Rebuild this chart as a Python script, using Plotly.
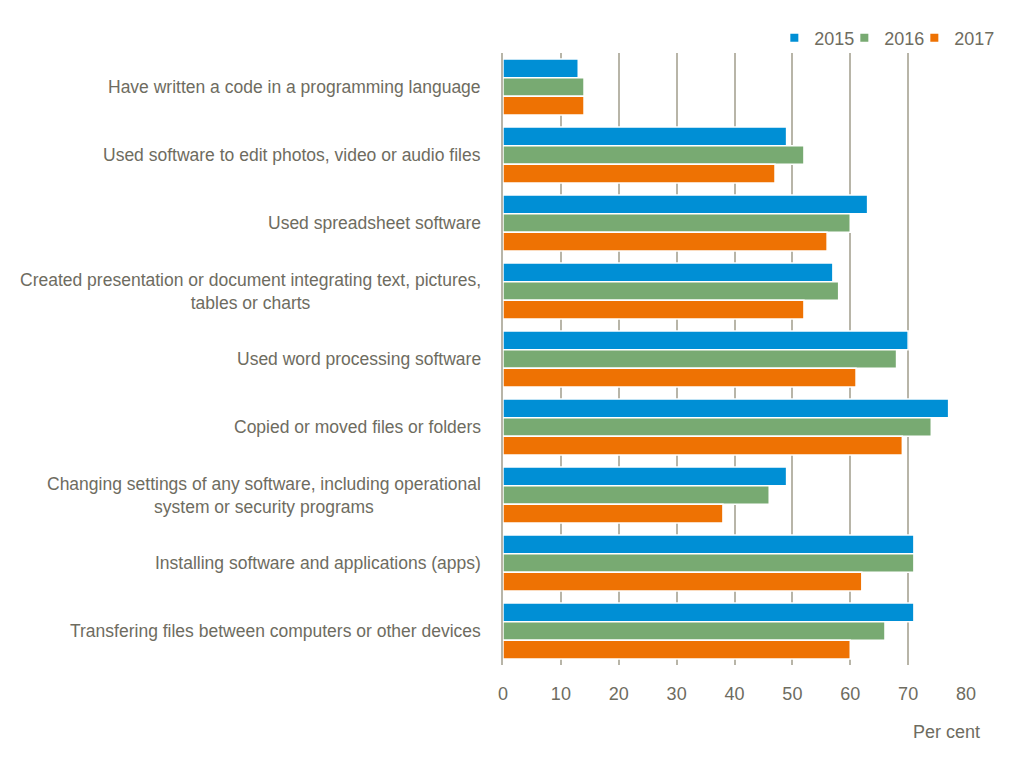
import plotly.graph_objects as go

categories = [
    "Have written a code in a programming language",
    "Used software to edit photos, video or audio files",
    "Used spreadsheet software",
    "Created presentation or document integrating text, pictures,<br>tables or charts",
    "Used word processing software",
    "Copied or moved files or folders",
    "Changing settings of any software, including operational<br>system or security programs",
    "Installing software and applications (apps)",
    "Transfering files between computers or other devices",
]
series_names = ["2015", "2016", "2017"]
values_2015 = [13, 49, 63, 57, 70, 77, 49, 71, 71]
values_2016 = [14, 52, 60, 58, 68, 74, 46, 71, 66]
values_2017 = [14, 47, 56, 52, 61, 69, 38, 62, 60]
x_ticks = [0, 10, 20, 30, 40, 50, 60, 70, 80]

colors = ["#008FD5", "#78AA72", "#EE7203"]
text_color = "#6E6C5F"
grid_color = "#B8B5A8"
font_family = "Liberation Sans, Arial, sans-serif"

keys = list(range(len(categories)))

fig = go.Figure()
for name, vals, col in zip(series_names, [values_2015, values_2016, values_2017], colors):
    fig.add_trace(go.Bar(
        y=keys, x=vals, name=name, orientation="h",
        marker=dict(color=col, line=dict(color="white", width=1.5)),
        showlegend=False,
    ))
for i, (name, col) in enumerate(zip(series_names, colors)):
    fig.add_trace(go.Scatter(
        x=[None], y=[None], mode="markers", name=name,
        marker=dict(symbol="square", size=8, color=col),
        legendwidth=25 if i < len(series_names) - 1 else 40,
    ))

for k, cat in zip(keys, categories):
    fig.add_annotation(
        x=0, y=k, xref="x", yref="y", text=cat, showarrow=False,
        xanchor="right", yanchor="middle", align="center", xshift=-20,
        font=dict(family=font_family, size=17.5, color=text_color),
    )

fig.add_annotation(
    x=1.034, y=-0.109, xref="paper", yref="paper", text="Per cent",
    showarrow=False, xanchor="right", yanchor="middle",
    font=dict(family=font_family, size=18, color=text_color),
)

fig.update_layout(
    width=1005, height=752,
    margin=dict(l=495, r=47, t=45, b=95),
    paper_bgcolor="white", plot_bgcolor="white",
    barmode="group", bargap=0.18, bargroupgap=0,
    font=dict(family=font_family, size=18, color=text_color),
    legend=dict(orientation="h", x=1.072, xanchor="right", y=1.0245, yanchor="middle",
                font=dict(family=font_family, size=18, color=text_color),
                itemwidth=30, tracegroupgap=0,
                bgcolor="rgba(0,0,0,0)"),
    xaxis=dict(range=[0, 80], tickvals=x_ticks, showgrid=True, gridcolor=grid_color,
               gridwidth=2, zeroline=False, showline=False, ticks="",
               ticklabelstandoff=16,
               tickfont=dict(family=font_family, size=18, color=text_color),
               fixedrange=True),
    yaxis=dict(range=[len(categories) - 0.5, -0.5], showticklabels=False, showgrid=False,
               zeroline=False, showline=True, linecolor=grid_color, linewidth=2,
               ticks="", fixedrange=True),
)

fig.write_html("out.html")
